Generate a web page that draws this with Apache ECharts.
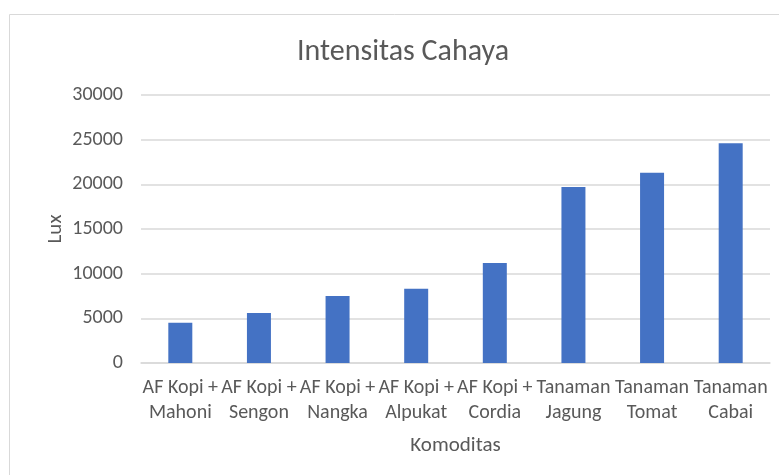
<!DOCTYPE html>
<html>
<head>
<meta charset="utf-8">
<script src="https://cdn.jsdelivr.net/npm/echarts@6/dist/echarts.min.js"></script>
<style>
  html, body { margin: 0; padding: 0; background: #fff; }
  #chart { width: 779px; height: 475px; }
</style>
</head>
<body>
<div id="chart"></div>
<script>
// data
const categories = [
  'AF Kopi +\nMahoni',
  'AF Kopi +\nSengon',
  'AF Kopi +\nNangka',
  'AF Kopi +\nAlpukat',
  'AF Kopi +\nCordia',
  'Tanaman\nJagung',
  'Tanaman\nTomat',
  'Tanaman\nCabai'
]
const luxValues = [4500, 5600, 7500, 8300, 11200, 19700, 21300, 24600]

const font = 'Carlito, "Liberation Sans Narrow", "DejaVu Sans Condensed", "Noto Sans", sans-serif'
const textColor = '#595959'
const gridColor = '#d9d9d9'

const chart = echarts.init(document.getElementById('chart'))

chart.setOption({
  animation: false,
  textStyle: { fontFamily: font },
  title: {
    text: 'Intensitas Cahaya',
    left: 398,
    top: 32,
    textAlign: 'center',
    textStyle: {
      fontFamily: font,
      fontSize: 30,
      fontWeight: 'normal',
      color: textColor
    }
  },
  // outer chart-area border
  graphic: [{
    type: 'rect',
    shape: { x: 9.5, y: 14.5, width: 800, height: 500 },
    style: { fill: 'none', stroke: gridColor, lineWidth: 1 },
    silent: true
  }],
  grid: {
    left: 141,
    right: 9,
    top: 95,
    bottom: 112
  },
  xAxis: {
    type: 'category',
    data: categories,
    name: 'Komoditas',
    nameLocation: 'middle',
    nameGap: 72,
    nameTextStyle: { fontFamily: font, fontSize: 21, color: textColor },
    axisLine: { lineStyle: { color: gridColor, width: 1.5 } },
    axisTick: { show: false },
    axisLabel: {
      interval: 0,
      margin: 12,
      fontFamily: font,
      fontSize: 20,
      lineHeight: 25,
      color: textColor
    }
  },
  yAxis: {
    type: 'value',
    min: 0,
    max: 30000,
    interval: 5000,
    name: 'Lux',
    nameLocation: 'middle',
    nameGap: 75,
    nameMoveOverlap: false,
    nameRotate: 90,
    nameTextStyle: { fontFamily: font, fontSize: 21, color: textColor },
    axisLine: { show: false },
    axisTick: { show: false },
    axisLabel: {
      margin: 18,
      fontFamily: font,
      fontSize: 20,
      color: textColor,
      formatter: v => String(v)
    },
    splitLine: { lineStyle: { color: gridColor, width: 1.5 } }
  },
  series: [{
    type: 'bar',
    data: luxValues,
    barWidth: 24,
    itemStyle: { color: '#4472C4' }
  }]
})
</script>
</body>
</html>
